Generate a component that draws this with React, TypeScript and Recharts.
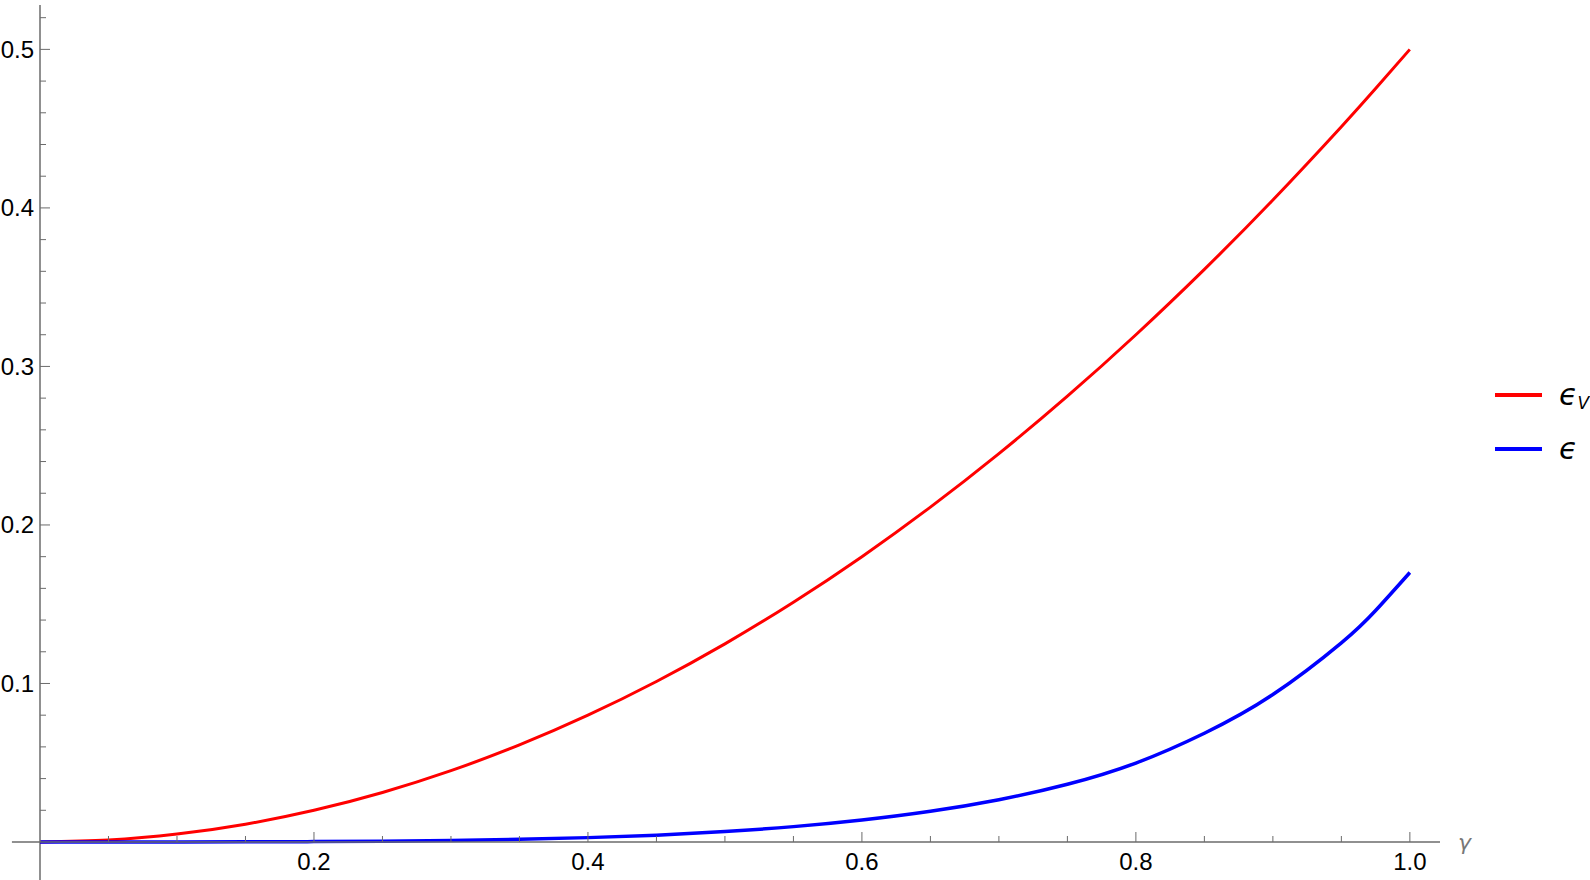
import React from 'react';
import { LineChart, Line, XAxis, YAxis, ReferenceLine, Legend } from 'recharts';

// gamma samples and the two curves
const gamma = [0, 0.05, 0.1, 0.15, 0.2, 0.25, 0.3, 0.35, 0.4, 0.45, 0.5, 0.55, 0.6, 0.65, 0.7, 0.75, 0.8, 0.85, 0.9, 0.95, 0.975, 1.0];
const epsV = [0, 0.00125, 0.005, 0.01125, 0.02, 0.03125, 0.045, 0.06125, 0.08, 0.10125, 0.125, 0.15125, 0.18, 0.21125, 0.245, 0.28125, 0.32, 0.36125, 0.405, 0.45125, 0.4753, 0.5];
const eps = [0, 0.000002, 0.00003, 0.0001, 0.00024, 0.0005, 0.00097, 0.00167, 0.00276, 0.0043, 0.0066, 0.0097, 0.0139, 0.0194, 0.0267, 0.0364, 0.0498, 0.0686, 0.093, 0.1256, 0.146, 0.17];

const xMajor = [0.2, 0.4, 0.6, 0.8, 1.0];
const xMinor = [0.05, 0.1, 0.15, 0.25, 0.3, 0.35, 0.45, 0.5, 0.55, 0.65, 0.7, 0.75, 0.85, 0.9, 0.95];
const yMajor = [0.1, 0.2, 0.3, 0.4, 0.5];
const yMinor = [0.02, 0.04, 0.06, 0.08, 0.12, 0.14, 0.16, 0.18, 0.22, 0.24, 0.26, 0.28, 0.32, 0.34, 0.36, 0.38, 0.42, 0.44, 0.46, 0.48, 0.52];

const legendLabels = [
  { key: 'epsV', main: 'ϵ', sub: 'V' },
  { key: 'eps', main: 'ϵ', sub: '' },
];

const data = gamma.map((g, i) => ({ g, epsV: epsV[i], eps: eps[i] }));

const AXIS = '#6b6b6b';
const FONT = '"Liberation Sans", Arial, sans-serif';

const isIn = (arr: number[], v: number) => arr.some((m) => Math.abs(m - v) < 1e-9);

const YTick = (props: any) => {
  const { x, y, payload } = props;
  const major = isIn(yMajor, payload.value);
  return (
    <g>
      <line x1={x} x2={x + (major ? 10 : 6)} y1={y} y2={y} stroke={AXIS} strokeWidth={1} />
      {major && (
        <text x={x - 6} y={y + 8.5} textAnchor="end" fontSize={24} fontFamily={FONT} fill="#000">
          {payload.value.toFixed(1)}
        </text>
      )}
    </g>
  );
};

const XTick = (props: any) => {
  const { x, y, payload } = props;
  const major = isIn(xMajor, payload.value);
  return (
    <g>
      <line x1={x} x2={x} y1={y} y2={y - (major ? 10 : 6)} stroke={AXIS} strokeWidth={1} />
      {major && (
        <text x={x} y={y + 28} textAnchor="middle" fontSize={24} fontFamily={FONT} fill="#000">
          {payload.value.toFixed(1)}
        </text>
      )}
    </g>
  );
};

const renderLegend = (props: any) => {
  const items = props.payload || [];
  return (
    <svg width={100} height={95}>
      {legendLabels.map((lab, i) => {
        const item = items.find((it: any) => it.dataKey === lab.key);
        if (!item) return null;
        const cy = 20 + i * 54;
        return (
          <g key={lab.key}>
            <line x1={5} x2={52} y1={cy} y2={cy} stroke={item.color} strokeWidth={4} />
            <text x={69} y={cy + 10} fontSize={30} fontStyle="italic" fontFamily='"DejaVu Sans", sans-serif' fill="#000">
              {lab.main}
              {lab.sub && (
                <tspan fontSize={17} dy={4}>
                  {lab.sub}
                </tspan>
              )}
            </text>
          </g>
        );
      })}
    </svg>
  );
};

export default function App() {
  return (
    <div style={{ position: 'absolute', left: 0, top: 0, background: '#fff' }}>
      <LineChart
        width={1590}
        height={880}
        data={data}
        margin={{ top: 5, right: 150, bottom: 37, left: 39 }}
        style={{ fontFamily: FONT }}
      >
        <XAxis
          type="number"
          dataKey="g"
          domain={[0, 1.022]}
          ticks={[...xMinor, ...xMajor].sort((a, b) => a - b)}
          interval={0}
          height={1}
          tickSize={0}
          tickMargin={0}
          tickLine={false}
          axisLine={{ stroke: AXIS, strokeWidth: 1.5 }}
          tick={XTick}
          label={{ value: 'γ', position: 'right', offset: 18, fontSize: 22, fontStyle: 'italic', fill: '#777', fontFamily: '"DejaVu Sans", sans-serif' }}
        />
        <YAxis
          type="number"
          domain={[0, 0.528]}
          ticks={[...yMinor, ...yMajor].sort((a, b) => a - b)}
          interval={0}
          width={1}
          tickSize={0}
          tickMargin={0}
          tickLine={false}
          axisLine={{ stroke: AXIS, strokeWidth: 1.5 }}
          tick={YTick}
        />
        <ReferenceLine segment={[{ x: -0.0205, y: 0 }, { x: 0, y: 0 }]} ifOverflow="visible" stroke={AXIS} strokeWidth={1.5} />
        <ReferenceLine segment={[{ x: 0, y: -0.024 }, { x: 0, y: 0 }]} ifOverflow="visible" stroke={AXIS} strokeWidth={1.5} />
        <Line type="natural" dataKey="epsV" stroke="#ff0000" strokeWidth={3} dot={false} isAnimationActive={false} />
        <Line type="natural" dataKey="eps" stroke="#0000ff" strokeWidth={3.5} dot={false} isAnimationActive={false} />
        <Legend
          layout="vertical"
          align="center"
          verticalAlign="middle"
          content={renderLegend}
          wrapperStyle={{ left: 1490, top: 375, width: 100, height: 95 }}
        />
      </LineChart>
    </div>
  );
}
